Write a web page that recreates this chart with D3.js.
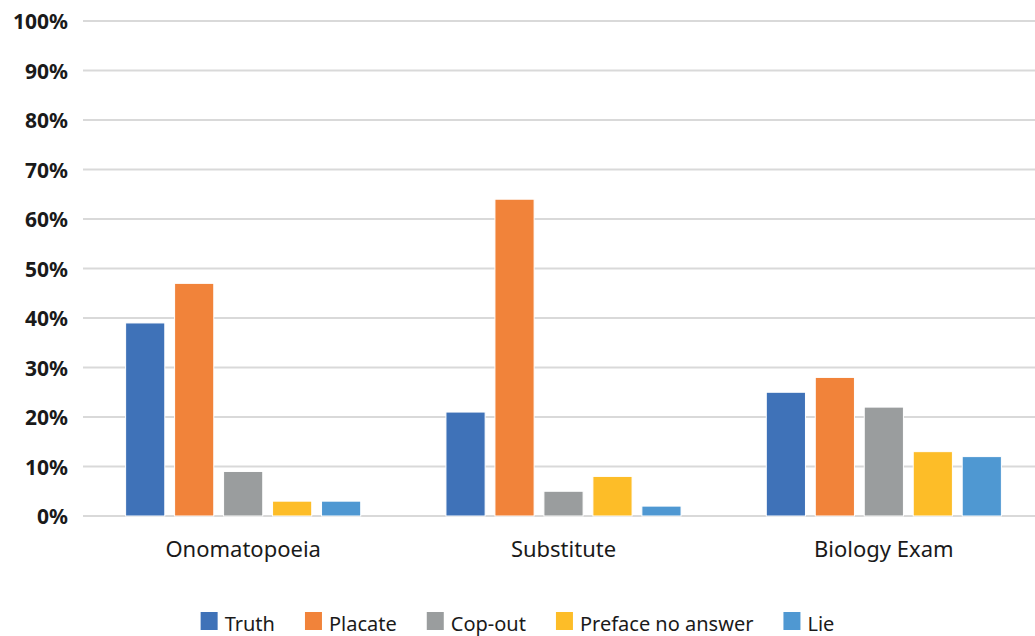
<!DOCTYPE html>
<html>
<head>
<meta charset="utf-8">
<script src="https://cdn.jsdelivr.net/npm/d3@7"></script>
<style>
  body { margin: 0; background: #fff; }
  svg { display: block; }
  svg text { font-family: "Noto Sans", "Lato", sans-serif; }
</style>
</head>
<body>
<div id="chart"></div>
<script>
// data
var categories = ["Onomatopoeia", "Substitute", "Biology Exam"];
var seriesNames = ["Truth", "Placate", "Cop-out", "Preface no answer", "Lie"];
var truth = [39, 21, 25];
var placate = [47, 64, 28];
var copOut = [9, 5, 22];
var preface = [3, 8, 13];
var lie = [3, 2, 12];
var yTicks = [0, 10, 20, 30, 40, 50, 60, 70, 80, 90, 100];
var colors = ["#3f72b8", "#f1833a", "#9a9d9e", "#fdbd28", "#4f98d2"];

var seriesValues = [truth, placate, copOut, preface, lie];

var width = 1035, height = 636;
var margin = {top: 21, left: 83, bottom: 120};
var plotRight = 1044; // plot area runs slightly past the picture edge

var svg = d3.select("#chart").append("svg")
    .attr("width", width)
    .attr("height", height);

var x0 = d3.scaleBand()
    .domain(categories)
    .range([margin.left, plotRight])
    .paddingInner(0)
    .paddingOuter(0);

var x1 = d3.scaleBand()
    .domain(seriesNames)
    .range([0, x0.bandwidth()])
    .paddingInner(0.2)
    .paddingOuter(0.87);

var y = d3.scaleLinear()
    .domain([0, 100])
    .range([516, margin.top]);

// gridlines
svg.append("g")
  .selectAll("line")
  .data(yTicks)
  .enter().append("line")
    .attr("x1", margin.left)
    .attr("x2", plotRight)
    .attr("y1", d => y(d))
    .attr("y2", d => y(d))
    .attr("stroke", "#d9d9d9")
    .attr("stroke-width", 2);

// y axis labels
var yAxis = svg.append("g")
    .attr("transform", "translate(" + (margin.left - 15) + ",0)")
    .call(d3.axisLeft(y).tickValues(yTicks).tickSize(0).tickFormat(d => d + "%"));
yAxis.attr("font-family", null);
yAxis.select(".domain").remove();
yAxis.selectAll("text")
    .attr("x", 0)
    .attr("dy", "0.36em")
    .attr("fill", "#1a1a1a")
    .style("font-size", "21px")
    .style("font-weight", "bold");

// bars
var groups = svg.append("g")
  .selectAll("g")
  .data(categories)
  .enter().append("g")
    .attr("transform", d => "translate(" + x0(d) + ",0)");

groups.selectAll("rect")
    .data((c, ci) => seriesNames.map((s, si) => ({series: s, si: si, value: seriesValues[si][ci]})))
  .enter().append("rect")
    .attr("x", d => x1(d.series))
    .attr("width", x1.bandwidth())
    .attr("y", d => y(d.value))
    .attr("height", d => y(0) - y(d.value))
    .attr("fill", d => colors[d.si])
    .attr("stroke", "#fff")
    .attr("stroke-width", 1);

// category labels
var xAxis = svg.append("g")
    .attr("transform", "translate(0," + y(0) + ")")
    .call(d3.axisBottom(x0).tickSize(0));
xAxis.attr("font-family", null);
xAxis.select(".domain").remove();
xAxis.selectAll("text")
    .attr("dy", 0)
    .attr("y", 41)
    .attr("fill", "#1a1a1a")
    .style("font-size", "22px");

// legend
var legend = svg.append("g");
var item = legend.selectAll("g")
    .data(seriesNames)
    .enter().append("g");

item.append("rect")
    .attr("width", 17)
    .attr("height", 18)
    .attr("y", 612)
    .attr("fill", (d, i) => colors[i]);

item.append("text")
    .attr("x", 24)
    .attr("y", 631)
    .attr("fill", "#1a1a1a")
    .style("font-size", "20px")
    .text(d => d);

var gap = 30;
var widths = [];
item.each(function() { widths.push(this.getBBox().width); });
var total = d3.sum(widths) + gap * (seriesNames.length - 1);
var pos = (width - total) / 2;
item.attr("transform", function(d, i) {
  var t = "translate(" + pos + ",0)";
  pos += widths[i] + gap;
  return t;
});
</script>
</body>
</html>
